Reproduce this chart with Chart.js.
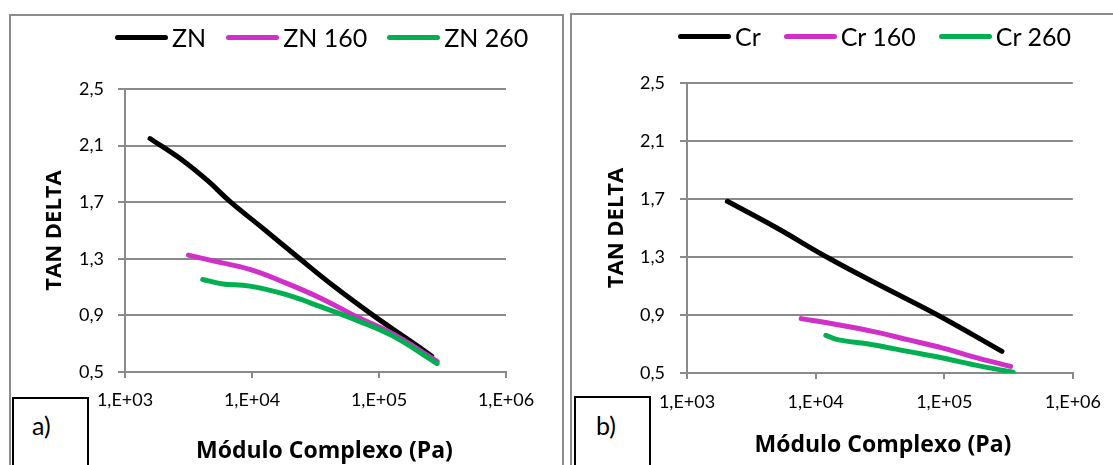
<!DOCTYPE html>
<html>
<head>
<meta charset="utf-8">
<script src="https://cdn.jsdelivr.net/npm/chart.js@4.4.1/dist/chart.umd.min.js"></script>
<style>
  body { margin: 0; width: 1113px; height: 465px; overflow: hidden; background: #fff; position: relative; font-family: Lato, sans-serif; }
  .panel { position: absolute; border: 2px solid #8c8c8c; box-sizing: border-box; }
  canvas { position: absolute; top: 0; }
  .legend { position: absolute; display: flex; align-items: center; font-size: 25px; line-height: 30px; color: #000; white-space: nowrap; }
  .legend .item { display: flex; align-items: center; }
  .legend .swatch { width: 53px; height: 5px; border-radius: 3px; margin-right: 4px; }
  .tag { position: absolute; width: 77px; height: 90px; border: 2px solid #000; box-sizing: border-box; background: #fff; }
  .tag span { position: absolute; font-size: 25px; line-height: 30px; color: #000; }
</style>
</head>
<body>
<div class="panel" style="left:9px;top:14px;width:555px;height:470px"></div>
<div class="panel" style="left:570px;top:13px;width:560px;height:470px"></div>
<canvas id="chartA" width="566" height="465" style="left:0"></canvas>
<canvas id="chartB" width="547" height="465" style="left:566px"></canvas>
<div class="legend" id="legendA" style="left:115px;top:22px"></div>
<div class="legend" id="legendB" style="left:678px;top:21px"></div>
<div class="tag" style="left:12px;top:397px"><span style="left:18px;top:11px">a)</span></div>
<div class="tag" style="left:574px;top:396px"><span style="left:20px;top:12px">b)</span></div>

<script>
// tick values and labels
const xTicks = [1e3, 1e4, 1e5, 1e6];
const xTickLabels = ["1,E+03", "1,E+04", "1,E+05", "1,E+06"];
const yTicks = [0.5, 0.9, 1.3, 1.7, 2.1, 2.5];
const yTickLabels = ["0,5", "0,9", "1,3", "1,7", "2,1", "2,5"];

// a) ZN series
const znX = [1575, 2900, 4500, 6800, 12000, 23800, 45000, 90000, 160000, 260000];
const znY = [2.15, 1.99, 1.85, 1.70, 1.52, 1.30, 1.10, 0.90, 0.745, 0.613];
const zn160X = [3160, 5040, 9610, 18400, 35100, 67000, 128000, 287000];
const zn160Y = [1.326, 1.284, 1.225, 1.13, 1.02, 0.89, 0.77, 0.575];
const zn260X = [4090, 5730, 9610, 18400, 35100, 67000, 128000, 287000];
const zn260Y = [1.154, 1.124, 1.107, 1.048, 0.96, 0.865, 0.755, 0.56];

// b) Cr series
const crX = [2060, 5000, 12200, 30000, 88700, 281000];
const crY = [1.684, 1.50, 1.30, 1.115, 0.90, 0.649];
const cr160X = [7720, 14800, 27700, 52000, 97600, 183000, 328000];
const cr160Y = [0.875, 0.833, 0.787, 0.73, 0.672, 0.603, 0.546];
const cr260X = [12000, 14800, 27700, 52000, 97600, 183000, 344000];
const cr260Y = [0.76, 0.73, 0.695, 0.649, 0.603, 0.551, 0.505];

const BLACK = "#000000";
const MAGENTA = "#d02fc8";
const GREEN = "#00b050";
const GRID = "#8a8a8a";

Chart.defaults.font.family = "Lato";
Chart.defaults.color = "#000";

function pts(xs, ys) {
  return xs.map((x, i) => ({ x: x, y: ys[i] }));
}

function series(label, xs, ys, color, order) {
  return {
    label: label,
    data: pts(xs, ys),
    borderColor: color,
    backgroundColor: color,
    borderWidth: 5,
    borderCapStyle: "round",
    borderJoinStyle: "round",
    pointRadius: 0,
    tension: 0.4,
    order: order,
  };
}

function makeChart(id, datasets, pad, yWidth, xHeight, yLabelPad, xLabelPad, xTitle) {
  return new Chart(document.getElementById(id), {
    type: "line",
    data: { datasets: datasets },
    options: {
      responsive: false,
      animation: false,
      devicePixelRatio: 1,
      layout: { padding: pad },
      plugins: { legend: { display: false }, tooltip: { enabled: false } },
      scales: {
        x: {
          type: "logarithmic",
          min: 1e3,
          max: 1e6,
          afterBuildTicks: (s) => { s.ticks = xTicks.map(v => ({ value: v })); },
          afterFit: (s) => { s.height = xHeight; },
          ticks: {
            font: { size: 18 },
            padding: xLabelPad,
            maxRotation: 0,
            autoSkip: false,
            callback: (v) => xTickLabels[xTicks.indexOf(v)],
          },
          grid: { drawOnChartArea: false, color: GRID, lineWidth: 2, tickLength: 6 },
          border: { color: GRID, width: 2 },
          title: {
            display: true,
            text: xTitle,
            font: { family: "Open Sans", weight: "bold", size: 23 },
            padding: 0,
          },
        },
        y: {
          min: 0.5,
          max: 2.5,
          afterBuildTicks: (s) => { s.ticks = yTicks.map(v => ({ value: v })); },
          afterFit: (s) => { s.width = yWidth; },
          ticks: {
            font: { size: 18 },
            padding: yLabelPad,
            callback: (v) => yTickLabels[yTicks.indexOf(v)],
          },
          grid: { color: GRID, lineWidth: 2, tickLength: 7 },
          border: { color: GRID, width: 2 },
          title: {
            display: true,
            text: "TAN DELTA",
            font: { family: "Open Sans", weight: "bold", size: 22 },
            padding: 0,
          },
        },
      },
    },
  });
}

function buildLegend(el, chart, gap) {
  chart.data.datasets.forEach((ds, i) => {
    const item = document.createElement("div");
    item.className = "item";
    if (i > 0) item.style.marginLeft = gap + "px";
    const sw = document.createElement("span");
    sw.className = "swatch";
    sw.style.background = ds.borderColor;
    const tx = document.createElement("span");
    tx.textContent = ds.label;
    item.appendChild(sw);
    item.appendChild(tx);
    el.appendChild(item);
  });
}

// leading spaces nudge the centred axis title to the right, as in the reference
const chartA = makeChart("chartA", [
  series("ZN", znX, znY, BLACK, 3),
  series("ZN 160", zn160X, zn160Y, MAGENTA, 2),
  series("ZN 260", zn260X, zn260Y, GREEN, 1),
], { left: 42, top: 89, right: 60, bottom: 0 }, 83, 93, 14, 11, "   Módulo Complexo (Pa)");

const chartB = makeChart("chartB", [
  series("Cr", crX, crY, BLACK, 3),
  series("Cr 160", cr160X, cr160Y, MAGENTA, 2),
  series("Cr 260", cr260X, cr260Y, GREEN, 1),
], { left: 38, top: 83, right: 34, bottom: 6 }, 83, 86, 15, 12, " Módulo Complexo (Pa)");

buildLegend(document.getElementById("legendA"), chartA, 20);
buildLegend(document.getElementById("legendB"), chartB, 23);
</script>
</body>
</html>
